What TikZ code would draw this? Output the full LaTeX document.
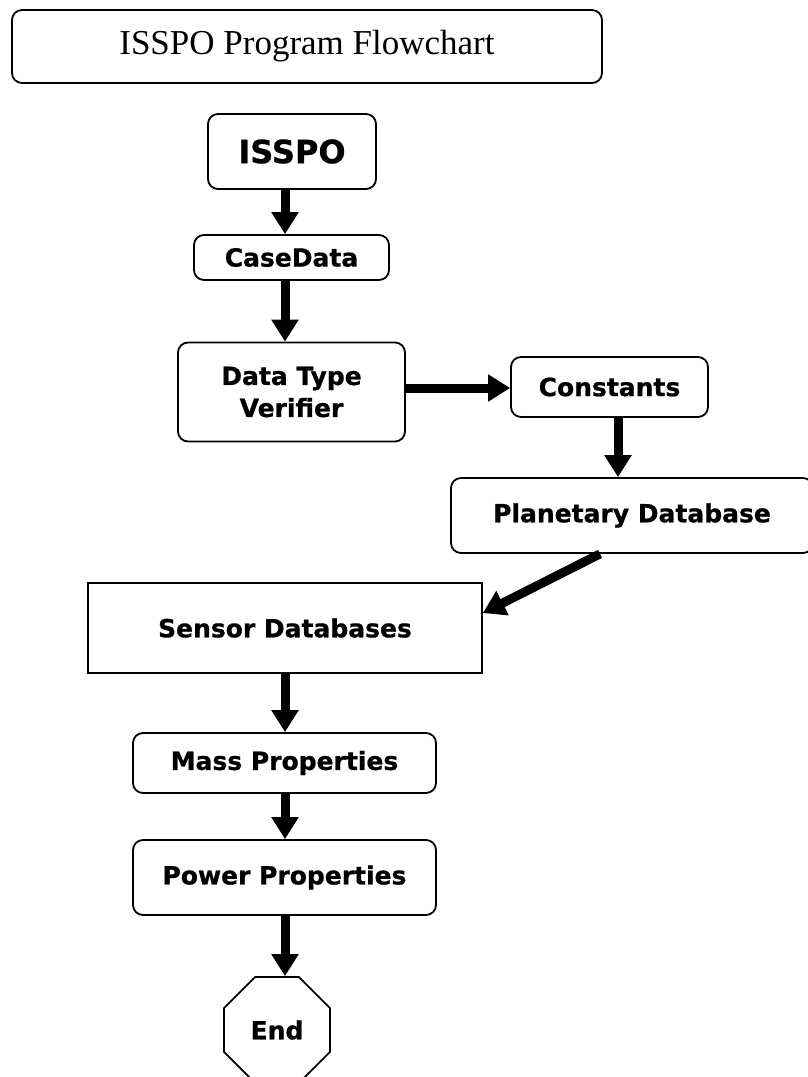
\documentclass[tikz,border=0pt]{standalone}
\usepackage{fontspec}
\setmainfont{Liberation Serif}
\newfontfamily\boxfont{DejaVu Sans}[BoldFeatures={FakeBold=0.8}]
\usetikzlibrary{arrows.meta,shapes.geometric}

\tikzset{
  frame/.style={draw, line width=1.8pt, inner sep=0pt, align=center,
    font=\boxfont\bfseries\fontsize{25}{32}\selectfont},
  roundbox/.style={frame, rounded corners=10pt},
  squarebox/.style={frame},
  flow/.style={line width=9pt, -{Triangle[length=22pt,width=26pt]}},
}

\begin{document}
\begin{tikzpicture}[x=1pt, y=-1pt]
  \useasboundingbox (0,0) rectangle (807,1077);

  % heading
  \node[draw, line width=1.8pt, rounded corners=10pt,
        minimum width=590pt, minimum height=73pt,
        font=\fontsize{35}{40}\selectfont] (title) at (307,46.5)
        {ISSPO Program Flowchart};

  % process boxes
  \node[roundbox, minimum width=168pt, minimum height=75pt,
        font=\boxfont\bfseries\fontsize{32}{36}\selectfont]
        (isspo) at (292,151.5) {ISSPO};
  \node[roundbox, minimum width=195pt, minimum height=45pt]
        (case) at (291.5,257.5) {CaseData};
  \node[roundbox, minimum width=227pt, minimum height=99pt]
        (dtv) at (291.5,392) {Data Type\\Verifier};
  \node[roundbox, minimum width=197pt, minimum height=60pt]
        (const) at (609.5,387) {Constants};
  \node[roundbox, minimum width=362pt, minimum height=75pt]
        (planet) at (632,515.5) {Planetary Database};
  \node[squarebox, minimum width=394pt, minimum height=90pt]
        (sensor) at (285,628) {Sensor Databases};
  \node[roundbox, minimum width=303pt, minimum height=60pt]
        (mass) at (284.5,763) {Mass Properties};
  \node[roundbox, minimum width=303pt, minimum height=75pt]
        (power) at (284.5,877.5) {Power Properties};
  \node[frame, regular polygon, regular polygon sides=8,
        minimum size=114.7pt] (end) at (277,1030) {End};

  % connector guides
  \coordinate (colA) at (285,0);
  \coordinate (colB) at (618,0);
  \coordinate (rowH) at (0,388);
  \coordinate (diagS) at (600,0);
  \coordinate (diagE) at (0,613);

  % connectors
  \draw[flow] (isspo.south -| colA) -- (case.north -| colA);
  \draw[flow] (case.south -| colA) -- (dtv.north -| colA);
  \draw[flow] (dtv.east |- rowH) -- (const.west |- rowH);
  \draw[flow] (const.south -| colB) -- (planet.north -| colB);
  \draw[flow] (planet.south -| diagS) -- (sensor.east |- diagE);
  \draw[flow] (sensor.south -| colA) -- (mass.north -| colA);
  \draw[flow] (mass.south -| colA) -- (power.north -| colA);
  \draw[flow] (power.south -| colA) -- (end.north -| colA);
\end{tikzpicture}
\end{document}
